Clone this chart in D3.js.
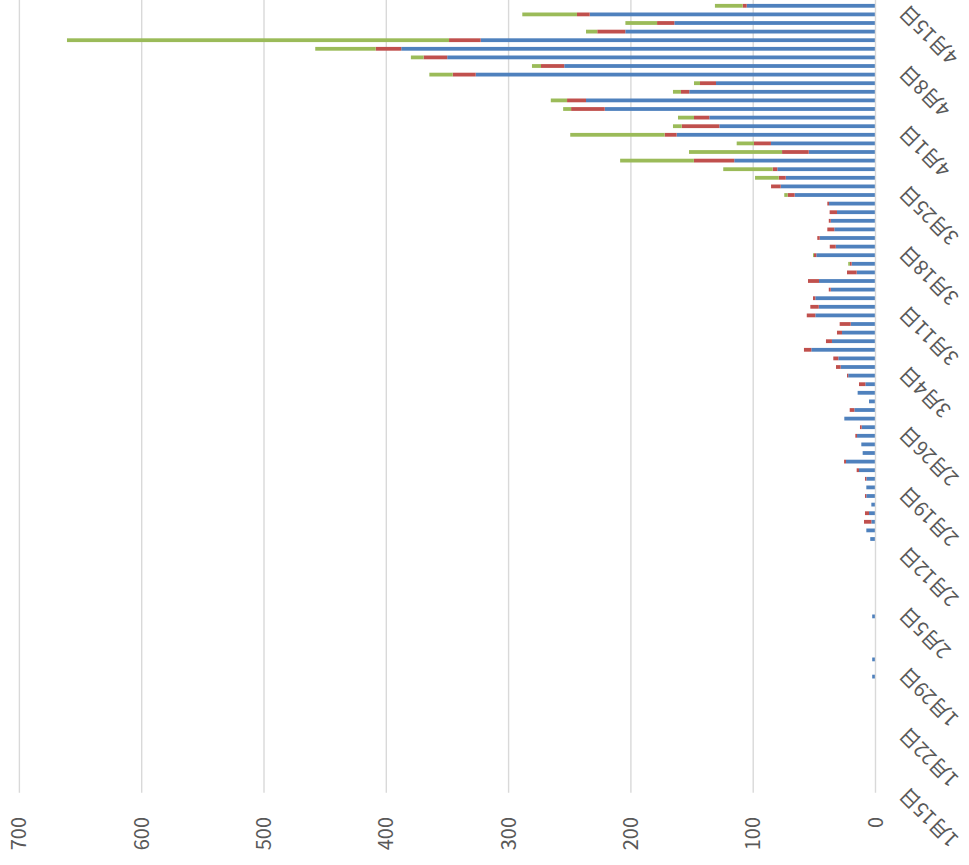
<!DOCTYPE html>
<html><head><meta charset="utf-8">
<script src="https://cdn.jsdelivr.net/npm/d3@7"></script>
<style>html,body{margin:0;padding:0;background:#fff;overflow:hidden}</style>
</head><body>
<svg id="c" width="969" height="865"></svg>
<script>
// Values listed from 4月15日 back to 1月15日 (as read top-to-bottom), reversed below to chronological order
const blueDesc = [105.3,233.7,164.5,204.6,322.8,387.8,350.2,254.5,326.9,130.4,152.3,236.7,221.4,135.9,127.7,162.6,85.5,54.6,115.5,80.3,73.4,77.5,66.1,38,31.5,36.6,33.7,45.6,32.5,48.4,19.5,15.4,46.2,36.6,49.2,46.4,49.2,20.3,27.4,35.6,52.5,30.4,28.5,22.3,8.3,14.6,5.3,17.3,25.5,11.3,15.1,11.6,10.5,24.1,13.5,7.5,7.5,7.5,3.4,5.3,3.4,7.5,4.3,0,0.4,0,0,0,0,0,0.4,2.7,0,0,0,0.4,2.7,0.4,2.7,0,0.4,0.4,0.4,0,0,0,0,0,0,0,0,0.4];
const redDesc = [3.3,10.4,14.1,22.9,25.9,20.9,19.3,19.0,18.8,13.1,6.8,15.5,27.5,12.5,30.8,9.8,13.9,21.8,33.0,3.8,5.7,7.9,5.7,1.4,6,1.6,5.7,2,4.9,1.9,1.4,7.9,9,1.6,1.9,6.9,7,9,4.1,4.9,6,4.1,3.8,1,5.2,0,0,3.8,0,1.4,1.4,0,0,1.6,1.9,1.1,0,1.1,0,3.3,6,0,0,0,0,0,0,0,0,0,0,0,0,0,0,0,0,0,0,0,0,0,0,0,0,0,0,0,0,0,0,0];
const greenDesc = [22.7,44.7,25.9,9.2,312.4,49.4,10.4,7.4,19.1,4.9,6.5,13.3,6.5,13.1,7.1,77.2,14.1,76.1,60.3,40.4,19.4,0,2.8,0,0,0,0,0,0,0.8,1.4,0,0,0,0,0,0,0,0,0,0,0,0,0,0,0,0,0,0,0,0,0,0,0,0,0,0,0,0,0,0,0,0,0,0,0,0,0,0,0,0,0,0,0,0,0,0,0,0,0,0,0,0,0,0,0,0,0,0,0,0,0];
const blue = blueDesc.slice().reverse();
const red = redDesc.slice().reverse();
const green = greenDesc.slice().reverse();
const seriesColors = ["#4F81BD","#C0504D","#9BBB59"];
const valueTicks = [0,100,200,300,400,500,600,700];
const labelDates = ["1月15日","1月22日","1月29日","2月5日","2月12日","2月19日","2月26日","3月4日","3月11日","3月18日","3月25日","4月1日","4月8日","4月15日"];

// build chronological category list 2020-01-15 .. 2020-04-15
const categories = [];
for (let d = new Date(2020,0,15); d <= new Date(2020,3,15); d.setDate(d.getDate()+1)) {
  categories.push((d.getMonth()+1)+"月"+d.getDate()+"日");
}
const rows = categories.map((c,i)=>({cat:c, blue:blue[i], red:red[i], green:green[i]}));

const svg = d3.select("#c");
// chart drawn as a column chart, then turned 90° counter-clockwise
const g = svg.append("g").attr("transform","translate(0,865) rotate(-90)");

const x = d3.scaleBand().domain(categories).range([72.3, 863.5]).paddingInner(0.56).paddingOuter(0.28);
const y = d3.scaleLinear().domain([0,700]).range([875.5, 19.4]);

// gridlines
g.append("g").selectAll("line").data(valueTicks.filter(v=>v>0)).join("line")
  .attr("x1",72.3).attr("x2",866).attr("y1",d=>y(d)).attr("y2",d=>y(d))
  .attr("stroke","#d9d9d9").attr("stroke-width",1.4);

const stack = d3.stack().keys(["blue","red","green"])(rows);
g.append("g").selectAll("g").data(stack).join("g")
  .attr("fill",(d,i)=>seriesColors[i])
  .selectAll("rect").data(d=>d).join("rect")
  .attr("x",d=>x(d.data.cat))
  .attr("width",x.bandwidth())
  .attr("y",d=>y(d[1]))
  .attr("height",d=>Math.max(0,y(d[0])-y(d[1])));

// category axis line
g.append("line").attr("x1",72.3).attr("x2",866).attr("y1",y(0)).attr("y2",y(0))
  .attr("stroke","#d9d9d9").attr("stroke-width",1.4);

// value labels
g.append("g").selectAll("text").data(valueTicks).join("text")
  .attr("x",48).attr("y",d=>y(d)).attr("dy","0.35em")
  .attr("text-anchor","end")
  .attr("font-family","'Noto Sans CJK SC','Noto Sans',sans-serif")
  .attr("font-size",20).attr("fill","#595959")
  .text(d=>d);

// category labels (every 7 days)
g.append("g").selectAll("text").data(labelDates).join("text")
  .attr("transform",d=>`translate(${x(d)+x.bandwidth()/2+2},${908}) rotate(-45)`)
  .attr("text-anchor","end")
  .attr("font-family","'Noto Sans CJK SC',sans-serif")
  .attr("font-size",20).attr("fill","#595959")
  .text(d=>d);
</script>
</body></html>
